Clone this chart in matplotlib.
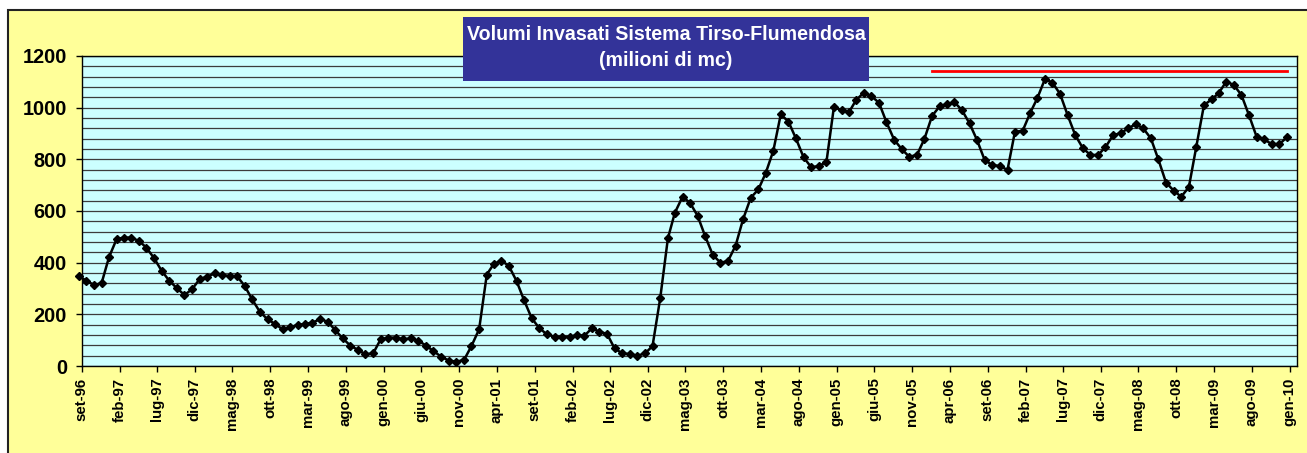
import matplotlib
matplotlib.use("Agg")
import matplotlib.pyplot as plt
from matplotlib.patches import Rectangle
from matplotlib.ticker import MultipleLocator
import numpy as np
import pandas as pd

plt.rcParams['font.family'] = ['Liberation Sans', 'DejaVu Sans']

# volumi invasati mensili (milioni di mc), da ago-96 a dic-09
volumes = [348, 330, 314, 320, 421, 492, 497, 497, 484, 458,
           417, 369, 330, 301, 275, 297, 336, 346, 359, 352,
           348, 348, 310, 258, 210, 181, 163, 142, 150, 159,
           163, 168, 181, 172, 139, 107, 79, 62, 45, 49,
           103, 110, 110, 103, 107, 98, 79, 58, 36, 21,
           17, 23, 77, 142, 354, 395, 408, 387, 329, 255,
           185, 146, 123, 113, 113, 113, 120, 117, 146, 133,
           124, 68, 49, 46, 40, 49, 77, 262, 494, 593,
           655, 632, 581, 503, 430, 400, 406, 466, 568, 651,
           684, 746, 833, 974, 946, 881, 808, 769, 774, 789,
           1001, 991, 984, 1030, 1058, 1045, 1019, 944, 876, 839,
           810, 817, 879, 968, 1006, 1013, 1021, 991, 939, 875,
           797, 778, 774, 759, 907, 910, 981, 1036, 1111, 1097,
           1053, 972, 894, 843, 817, 817, 847, 894, 901, 920,
           936, 920, 881, 800, 710, 679, 655, 692, 849, 1010,
           1032, 1056, 1101, 1088, 1049, 972, 888, 877, 859, 859,
           885]
dates = pd.date_range('1996-08-01', periods=len(volumes), freq='MS') + pd.Timedelta(days=19)

# linea rossa di riferimento
limit_value = 1140
limit_from = 113

tick_dates = pd.date_range('1996-09-01', periods=33, freq='5MS')
tick_labels = ['set-96', 'feb-97', 'lug-97', 'dic-97', 'mag-98', 'ott-98', 'mar-99',
               'ago-99', 'gen-00', 'giu-00', 'nov-00', 'apr-01', 'set-01', 'feb-02',
               'lug-02', 'dic-02', 'mag-03', 'ott-03', 'mar-04', 'ago-04', 'gen-05',
               'giu-05', 'nov-05', 'apr-06', 'set-06', 'feb-07', 'lug-07', 'dic-07',
               'mag-08', 'ott-08', 'mar-09', 'ago-09', 'gen-10']

W, H = 1307, 453
fig = plt.figure(figsize=(W / 100, H / 100), dpi=100, facecolor='white')

# sfondo giallo del grafico
fig.add_artist(Rectangle((8 / W, -0.2), 1.2, 1.2 - 10 / H, transform=fig.transFigure,
                         facecolor='#FFFF99', edgecolor='#222222', lw=1.5, zorder=-5))

ax = fig.add_axes([81.7 / W, 1 - 366 / H, (1297 - 81.7) / W, (366 - 56) / H])
ax.set_facecolor('#CCFFFF')

ax.plot(dates, volumes, color='black', lw=1.8, marker='D', ms=3.6, mew=1.0,
        mfc='black', mec='black', clip_on=False, zorder=3)
ax.plot(dates[limit_from:], [limit_value] * len(dates[limit_from:]), color='#FF0000',
        lw=2.0, zorder=3)

ax.set_ylim(0, 1200)
ax.set_xlim(pd.Timestamp('1996-09-01'), pd.Timestamp('2010-01-30'))
ax.yaxis.set_major_locator(MultipleLocator(200))
ax.yaxis.set_minor_locator(MultipleLocator(40))
ax.grid(True, axis='y', which='both', color='#3c3c3c', lw=0.9)
ax.set_axisbelow(True)

ax.set_xticks(tick_dates)
ax.set_xticklabels(tick_labels, rotation=90, fontsize=10.8, fontweight='bold')
ax.tick_params(axis='x', direction='out', length=4.3, width=1, pad=4)
ax.tick_params(axis='y', which='major', direction='out', length=4, width=1, pad=6.5,
               labelsize=14.3)
ax.tick_params(axis='y', which='minor', length=0)
for lab in ax.get_yticklabels():
    lab.set_fontweight('bold')
for sp in ax.spines.values():
    sp.set_color('black')
    sp.set_linewidth(1.0)

# riquadro del titolo
fig.add_artist(Rectangle((463 / W, 1 - 81 / H), (869 - 463) / W, 64 / H,
                         transform=fig.transFigure, facecolor='#333399',
                         edgecolor='none', zorder=5))
fig.text(666 / W, 1 - 35 / H, 'Volumi Invasati Sistema Tirso-Flumendosa',
         ha='center', va='center', color='white', fontsize=14.1, fontweight='bold', zorder=6)
fig.text(666 / W, 1 - 61 / H, '(milioni di mc)',
         ha='center', va='center', color='white', fontsize=14.1, fontweight='bold', zorder=6)

fig.savefig('out.png', dpi=100, facecolor='white')
